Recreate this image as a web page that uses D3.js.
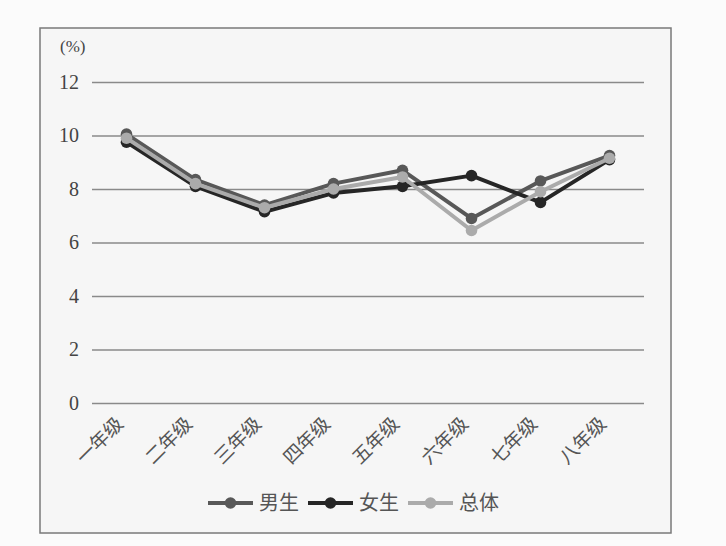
<!DOCTYPE html>
<html>
<head>
<meta charset="utf-8">
<script src="https://cdn.jsdelivr.net/npm/d3@7"></script>
<style>
  html, body { margin: 0; padding: 0; background: #fbfbfb; }
  #chart { width: 726px; height: 546px; }
</style>
</head>
<body>
<div id="chart"></div>
<script>
// data
const grades = ['一年级', '二年级', '三年级', '四年级', '五年级', '六年级', '七年级', '八年级'];
const boys   = [10.05, 8.35, 7.4, 8.2, 8.7, 6.9, 8.3, 9.25];
const girls  = [9.75, 8.1, 7.15, 7.85, 8.1, 8.5, 7.5, 9.1];
const total  = [9.9, 8.2, 7.3, 8.0, 8.45, 6.45, 7.9, 9.15];
const yTicks = [0, 2, 4, 6, 8, 10, 12];

const series = [
    { name: '男生', values: boys,  color: '#585858' },
    { name: '女生', values: girls, color: '#262626' },
    { name: '总体', values: total, color: '#ababab' }
];

const width = 726, height = 546;
const margin = { top: 82, right: 82, bottom: 143, left: 92 };
const chartWidth = width - margin.left - margin.right;
const chartHeight = height - margin.top - margin.bottom;

const svg = d3.select('#chart').append('svg')
    .attr('width', width)
    .attr('height', height);

// panel + frame
svg.append('rect')
    .attr('x', 40).attr('y', 28)
    .attr('width', 631).attr('height', 505)
    .attr('fill', '#f6f6f6')
    .attr('stroke', '#7a7a7a')
    .attr('stroke-width', 1.5);

const g = svg.append('g')
    .attr('transform', `translate(${margin.left},${margin.top})`);

const xScale = d3.scaleBand()
    .domain(grades)
    .range([0, chartWidth]);

const yScale = d3.scaleLinear()
    .domain([0, 12])
    .range([chartHeight, 0]);

// grid lines with y labels
const yAxis = d3.axisLeft(yScale)
    .tickValues(yTicks)
    .tickSize(-chartWidth)
    .tickPadding(13);

g.append('g')
    .call(yAxis)
    .attr('font-family', null)
    .call(a => a.select('.domain').remove())
    .call(a => a.selectAll('line').attr('stroke', '#8a8a8a').attr('stroke-width', 1.4))
    .call(a => a.selectAll('text')
        .attr('fill', '#444')
        .style('font-family', '"Liberation Serif", "Times New Roman", serif')
        .style('font-size', '20px'));

g.append('text')
    .attr('x', -32)
    .attr('y', -30)
    .attr('fill', '#444')
    .style('font-family', '"Liberation Serif", serif')
    .style('font-size', '17px')
    .text('(%)');

// x labels, rotated
const xAxis = d3.axisBottom(xScale).tickSize(0).tickPadding(0);
g.append('g')
    .attr('transform', `translate(0,${chartHeight})`)
    .call(xAxis)
    .call(a => a.select('.domain').remove())
    .call(a => a.selectAll('text')
        .attr('fill', '#555')
        .attr('text-anchor', 'end')
        .attr('dy', 0)
        .attr('transform', 'translate(-2,22) rotate(-45)')
        .style('font-family', '"Noto Sans CJK SC", sans-serif')
        .style('font-size', '19px'));

// lines
const line = d3.line()
    .x((d, i) => xScale(grades[i]) + xScale.bandwidth() / 2)
    .y(d => yScale(d));

series.forEach(s => {
    g.append('path')
        .datum(s.values)
        .attr('fill', 'none')
        .attr('stroke', s.color)
        .attr('stroke-width', 4)
        .attr('stroke-linejoin', 'round')
        .attr('d', line);

    g.selectAll(null)
        .data(s.values)
        .enter()
        .append('circle')
        .attr('cx', (d, i) => xScale(grades[i]) + xScale.bandwidth() / 2)
        .attr('cy', d => yScale(d))
        .attr('r', 5.8)
        .attr('fill', s.color);
});

// legend
const legend = svg.append('g')
    .attr('transform', 'translate(208,503)');

series.forEach((s, i) => {
    const lg = legend.append('g').attr('transform', `translate(${i * 100},0)`);
    lg.append('line')
        .attr('x1', 0).attr('x2', 45)
        .attr('stroke', s.color)
        .attr('stroke-width', 4);
    lg.append('circle')
        .attr('cx', 22.5).attr('r', 5.8)
        .attr('fill', s.color);
    lg.append('text')
        .attr('x', 51)
        .attr('y', 7)
        .attr('fill', '#555')
        .style('font-family', '"Noto Sans CJK SC", sans-serif')
        .style('font-size', '20px')
        .text(s.name);
});
</script>
</body>
</html>
